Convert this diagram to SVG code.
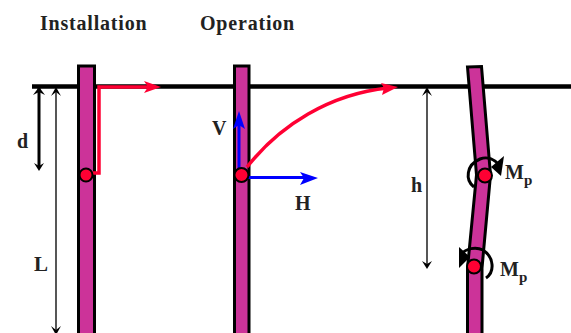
<svg xmlns="http://www.w3.org/2000/svg" width="571" height="333" viewBox="0 0 571 333">
<style>
text{font-family:"Liberation Serif",serif;font-weight:bold;fill:#222}
.title{letter-spacing:.8px}
.pile{fill:#cc3399;stroke:#000;stroke-width:3}
.pin{fill:#ff0033;stroke:#000;stroke-width:2}
.red{fill:none;stroke:#ff0033;stroke-width:3.500}
.blue{fill:none;stroke:#0000ff;stroke-width:3}
.dim{fill:none;stroke:#444;stroke-width:1.800}
.mom{fill:none;stroke:#000;stroke-width:3}
</style>
<rect width="571" height="333" fill="#fff"/>
<g id="ground"><path d="M32 86.500H571" stroke="#000" stroke-width="4.500"/></g>
<g id="pile-installation"><rect class="pile" x="78.500" y="66" width="16" height="270"/></g>
<g id="pile-operation"><rect class="pile" x="234.500" y="66" width="14.500" height="270"/></g>
<g id="pile-plastic"><path class="pile" d="M467.500 67L481.500 66.500L490.500 175L482 268V336H467.500V268L476.500 175Z"/></g>
<g id="connectors">
<path class="red" d="M90 173H99V87H150"/>
<path d="M161 87L144 81L148 87L144 93Z" fill="#ff0033"/>
<path class="red" d="M247 167C280 125 330 94 388 88"/>
<path d="M398 87L381 83L384 88L382 95Z" fill="#ff0033"/>
<path class="blue" d="M239 170V122"/>
<path d="M239 111L233 129L239 125L245 129Z" fill="#0000ff"/>
<path class="blue" d="M248 177.500H306"/>
<path d="M318 178L300 172L304 178L300 185Z" fill="#0000ff"/>
<path d="M39 88V168" stroke="#000" stroke-width="3" fill="none"/>
<path d="M33 95L39 87L45 95L39 92ZM34 163L39 171L44 163L39 166Z" fill="#000"/>
<path class="dim" d="M56 88V331"/>
<path d="M51 96L56 87L61 96L56 92ZM51 326L56 335L61 326L56 330Z" fill="#000"/>
<path class="dim" d="M427 88V266"/>
<path d="M422 96L427 87L432 96L427 92ZM422 261L427 269L432 261L427 264Z" fill="#000"/>
<path class="mom" d="M474 187C465 180 466 165 480 159C488 156 495 160 499 165"/>
<path d="M504 156L501 176L491 167Z" fill="#000"/>
<path class="mom" d="M486 278C495 272 494 257 483 250C475 246 466 249 461 254"/>
<path d="M459 247L459 268L470 257Z" fill="#000"/>
</g>
<g id="pin-installation"><circle class="pin" cx="86" cy="175" r="6.500"/></g>
<g id="pin-operation"><circle class="pin" cx="241.500" cy="175" r="7"/></g>
<g id="pin-upper"><circle class="pin" cx="485" cy="175.500" r="7"/></g>
<g id="pin-lower"><circle class="pin" cx="474" cy="266.500" r="7"/></g>
<g id="labels">
<text class="title" x="40" y="30" font-size="20">Installation</text>
<text class="title" x="200" y="30" font-size="20">Operation</text>
<text x="17" y="148" font-size="20">d</text>
<text x="34" y="271" font-size="21">L</text>
<text x="212" y="135" font-size="20">V</text>
<text x="295" y="210" font-size="20">H</text>
<text x="411" y="192" font-size="20">h</text>
<text x="505" y="179" font-size="20">M<tspan font-size="15" dy="6">p</tspan></text>
<text x="500" y="276" font-size="20">M<tspan font-size="15" dy="6">p</tspan></text>
</g>
</svg>
